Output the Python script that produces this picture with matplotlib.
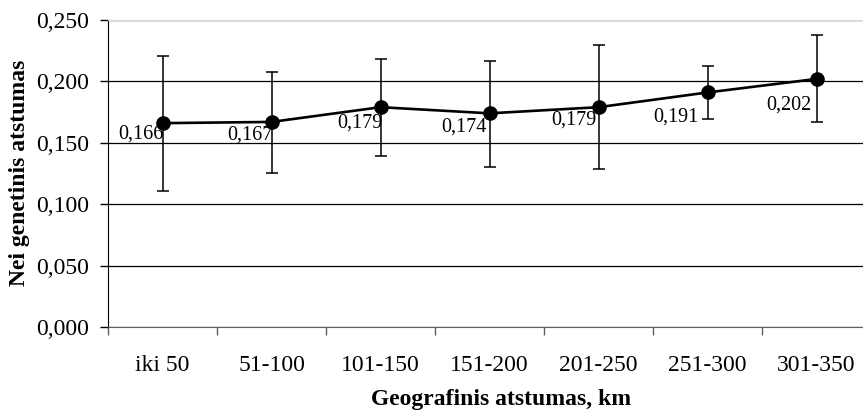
import matplotlib
matplotlib.use("Agg")
import matplotlib.pyplot as plt
import numpy as np

plt.rcParams['font.family'] = ['Liberation Serif', 'DejaVu Serif']

categories = ["iki 50", "51-100", "101-150", "151-200", "201-250", "251-300", "301-350"]
distance = [0.166, 0.167, 0.179, 0.174, 0.179, 0.191, 0.202]
upper = [0.2206, 0.2078, 0.2184, 0.2168, 0.2293, 0.2125, 0.2377]
lower = [0.1108, 0.1255, 0.1396, 0.1301, 0.1288, 0.1695, 0.1671]
yticks = [0.000, 0.050, 0.100, 0.150, 0.200, 0.250]

# label offsets in pixels (dx of right edge, dy of centre, downwards)
label_offsets = [(1, 11), (1, 13), (2, 16), (-3, 14), (-2, 13), (-9, 25), (-5, 26)]

W, H = 863, 412
fig = plt.figure(figsize=(W / 100, H / 100), dpi=100)
ax = fig.add_axes([108 / W, (H - 327) / H, (871 - 108) / W, (327 - 20) / H])

x = np.arange(len(categories))
d = np.array(distance)
yerr = np.vstack([d - np.array(lower), np.array(upper) - d])

ax.errorbar(x, d, yerr=yerr, fmt='none', ecolor='black', elinewidth=1.1,
            capsize=4.3, capthick=1.1, zorder=3)
ax.plot(x, d, color='black', lw=1.9, marker='o', markersize=9.5,
        markerfacecolor='black', markeredgecolor='black', zorder=4)

for xi, v, (dx, dy) in zip(x, distance, label_offsets):
    ax.annotate(f"{v:.3f}".replace('.', ','), (xi, v),
                xytext=(dx * 0.72, -dy * 0.72), textcoords='offset points',
                ha='right', va='center', fontsize=14.5, color='black', zorder=2)

ax.set_xlim(-0.5, len(categories) - 0.5)
ax.set_ylim(0, 0.25)
ax.set_yticks(yticks)
ax.set_yticklabels([f"{t:.3f}".replace('.', ',') for t in yticks], fontsize=17)
ax.yaxis.grid(True, color='black', lw=0.9)
ax.set_axisbelow(True)

ax.set_xticks(x)
ax.set_xticklabels(categories, fontsize=17)
ax.set_xticks(np.arange(len(categories) + 1) - 0.5, minor=True)
ax.tick_params(axis='x', which='major', length=0, pad=20)
ax.tick_params(axis='x', which='minor', length=6, width=1, color='#606060', direction='out')
ax.tick_params(axis='y', length=6, width=1, pad=7.5, direction='out')

ax.spines['left'].set_color('black')
ax.spines['bottom'].set_color('#606060')
ax.spines['top'].set_color('#d9d9d9')
ax.spines['right'].set_visible(False)

ax.set_ylabel("Nei genetinis atstumas", fontsize=17, fontweight='bold')
ax.yaxis.label.set_va('center')
ax.yaxis.set_label_coords(-(108 - 20) / (871 - 108), 0.5 + (174 - 173.5) / 307)
ax.set_xlabel("Geografinis atstumas, km", fontsize=17, fontweight='bold')
ax.xaxis.set_label_coords((501 - 108) / (871 - 108), -(389 - 327) / (327 - 20))
ax.xaxis.label.set_va('top')

fig.savefig("out.png", dpi=100)
